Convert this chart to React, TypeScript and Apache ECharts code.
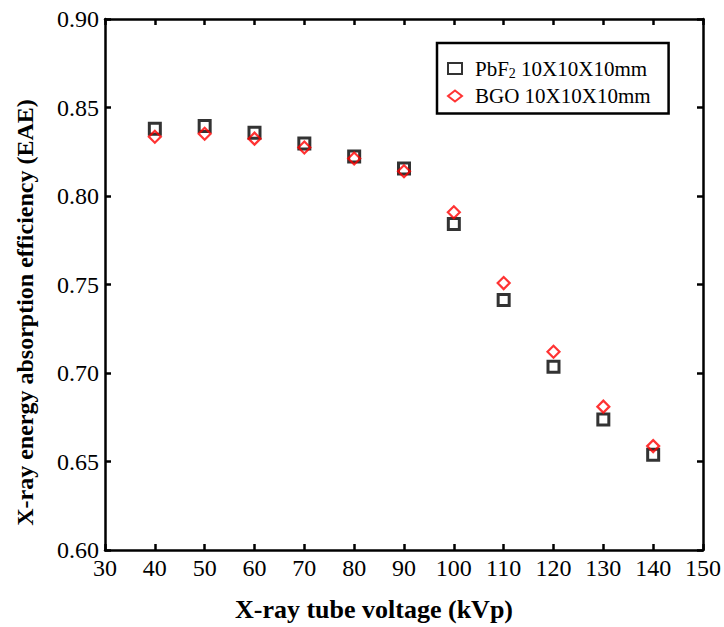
import React, { useEffect, useRef } from "react";
import * as echarts from "echarts";

const voltages = [40, 50, 60, 70, 80, 90, 100, 110, 120, 130, 140];
const pbf2 = [0.838, 0.8395, 0.8357, 0.8296, 0.8223, 0.8155, 0.7842, 0.7413, 0.7035, 0.6737, 0.6538];
const bgo = [0.8335, 0.8352, 0.8324, 0.8274, 0.8212, 0.8140, 0.7908, 0.7508, 0.7120, 0.6810, 0.6587];
const seriesNames = ["PbF2 10X10X10mm", "BGO 10X10X10mm"];
const xTitle = "X-ray tube voltage (kVp)";
const yTitle = "X-ray energy absorption efficiency (EAE)";

const FONT = "Liberation Serif";

export default function App() {
  const ref = useRef<HTMLDivElement>(null);
  useEffect(() => {
    if (!ref.current) return;
    const chart = echarts.init(ref.current, null, { renderer: "svg" });
    const axisLine = { show: true, lineStyle: { color: "#000", width: 2.5 } };
    const tickIn = { show: true, inside: true, length: 6, lineStyle: { color: "#000", width: 2.5 } };
    const tickRich = { t: { fontFamily: FONT, fontSize: 24, color: "#000" } };
    chart.setOption({
      animation: false,
      backgroundColor: "#fff",
      textStyle: { fontFamily: FONT },
      grid: { left: 105, right: 18, top: 19, bottom: 74 },
      legend: {
        show: true,
        data: seriesNames,
        orient: "vertical",
        left: 437,
        top: 43,
        padding: [15, 18, 7, 10],
        itemGap: 5,
        itemWidth: 14,
        itemHeight: 11,
        borderColor: "#000",
        borderWidth: 2.5,
        backgroundColor: "#fff",
        textStyle: {
          fontFamily: FONT,
          fontSize: 21,
          color: "#000",
          rich: {
            p: { fontFamily: FONT, fontSize: 21, color: "#000", padding: [0, 0, 0, 8] },
            a: { fontFamily: FONT, fontSize: 21, color: "#000" },
            s: { fontFamily: FONT, fontSize: 14, color: "#000", verticalAlign: "bottom", padding: [10, 0, 0, 0] },
          },
        },
        formatter: (name: string) => {
          if (name.startsWith("PbF2")) {
            return "{p|PbF}{s|2}{a|" + name.slice(4) + "}";
          }
          return "{p|" + name + "}";
        },
      },
      xAxis: [
        {
          type: "value",
          position: "bottom",
          min: 30,
          max: 150,
          interval: 10,
          name: xTitle,
          nameLocation: "middle",
          nameGap: 46,
          nameTextStyle: {
            fontFamily: FONT,
            fontSize: 26,
            fontWeight: "bold",
            color: "#000",
            padding: [0, 60, 0, 0],
          },
          axisLine,
          axisTick: tickIn,
          axisLabel: {
            margin: 6,
            fontFamily: FONT,
            fontSize: 24,
            color: "#000",
            rich: tickRich,
            formatter: (v: number) => "{t|" + v + "}",
          },
          splitLine: { show: false },
        },
        {
          type: "value",
          position: "top",
          min: 30,
          max: 150,
          interval: 10,
          axisLine,
          axisTick: tickIn,
          axisLabel: { show: false },
          splitLine: { show: false },
        },
      ],
      yAxis: [
        {
          type: "value",
          position: "left",
          min: 0.6,
          max: 0.9,
          interval: 0.05,
          name: yTitle,
          nameLocation: "middle",
          nameGap: 68,
          nameTextStyle: {
            fontFamily: FONT,
            fontSize: 24,
            fontWeight: "bold",
            color: "#000",
            padding: [0, 56, 0, 0],
          },
          axisLine,
          axisTick: tickIn,
          axisLabel: {
            margin: 6,
            fontFamily: FONT,
            fontSize: 24,
            color: "#000",
            rich: tickRich,
            formatter: (v: number) => "{t|" + v.toFixed(2) + "}",
          },
          splitLine: { show: false },
        },
        {
          type: "value",
          position: "right",
          min: 0.6,
          max: 0.9,
          interval: 0.05,
          axisLine,
          axisTick: tickIn,
          axisLabel: { show: false },
          splitLine: { show: false },
        },
      ],
      series: [
        {
          name: seriesNames[0],
          type: "scatter",
          symbol: "rect",
          symbolSize: 11,
          itemStyle: { color: "rgba(255,255,255,0)", borderColor: "#000", borderWidth: 3 },
          data: voltages.map((v, i) => [v, pbf2[i]]),
        },
        {
          name: seriesNames[1],
          type: "scatter",
          symbol: "diamond",
          symbolSize: [12, 12],
          itemStyle: { color: "rgba(255,255,255,0)", borderColor: "#ff0000", borderWidth: 2.2 },
          data: voltages.map((v, i) => [v, bgo[i]]),
        },
      ],
    });
    return () => chart.dispose();
  }, []);
  return (
    <div
      ref={ref}
      style={{ position: "fixed", left: 0, top: 0, width: 724, height: 627 }}
    />
  );
}
